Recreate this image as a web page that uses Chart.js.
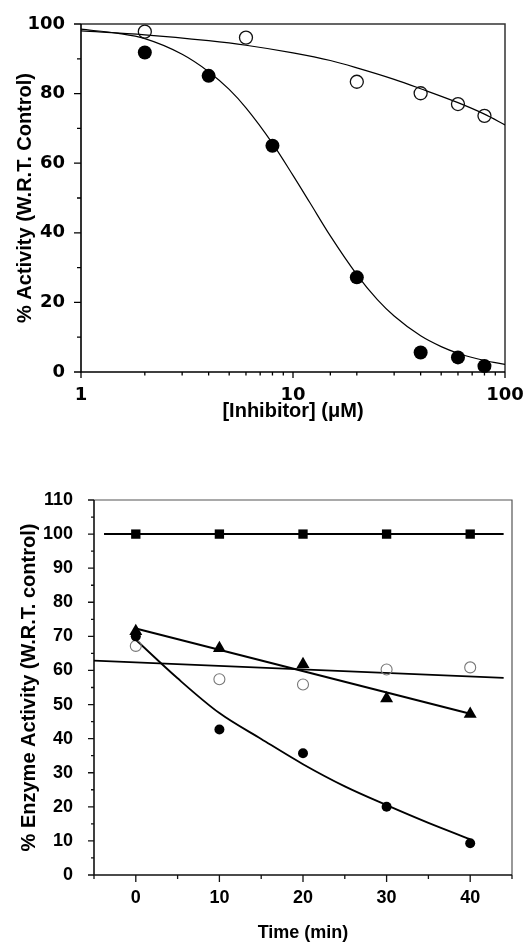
<!DOCTYPE html>
<html>
<head>
<meta charset="utf-8">
<script src="https://cdn.jsdelivr.net/npm/chart.js@4.4.1/dist/chart.umd.min.js"></script>
<style>
  html, body { margin: 0; padding: 0; background: #fff; }
  canvas { position: absolute; left: 0; }
  #c1 { top: 0; }
  #c2 { top: 440px; }
</style>
</head>
<body>
<canvas id="c1" width="531" height="440"></canvas>
<canvas id="c2" width="531" height="504"></canvas>
<script>
// ---- top panel: dose response ----
const concFilled = [2, 4, 8, 20, 40, 60, 80];
const actFilled = [91.8, 85.1, 65.0, 27.2, 5.6, 4.2, 1.7];
const concOpen = [2, 6, 20, 40, 60, 80];
const actOpen = [97.8, 96.1, 83.4, 80.1, 77.0, 73.6];
// fitted curves
const fitFilledX = [1, 1.5, 2, 3, 4, 5, 6, 8, 10, 12, 15, 20, 25, 30, 40, 50, 60, 80, 100];
const fitFilledY = [98.5, 97.3, 95.8, 91.3, 86.3, 81.2, 75.9, 65.7, 56.5, 48.7, 39.1, 28.0, 20.8, 16.1, 10.4, 7.3, 5.4, 3.3, 2.2];
const fitOpenX = [1, 2, 4, 6, 10, 15, 20, 30, 40, 60, 80, 100];
const fitOpenY = [98.0, 96.9, 95.2, 93.9, 91.7, 89.5, 87.4, 84.1, 81.4, 77.4, 74.1, 71.0];

// ---- bottom panel: time course ----
const timeMin = [0, 10, 20, 30, 40];
const controlAct = [100, 100, 100, 100, 100];
const triangleAct = [71.5, 66.5, 61.8, 51.8, 47.2];
const openAct = [67.2, 57.4, 55.9, 60.3, 60.9];
const filledAct = [70.0, 42.7, 35.7, 20.0, 9.3];
const controlLineX = [-3.8, 44];
const controlLineY = [100, 100];
const triangleLineX = [0, 40];
const triangleLineY = [72.3, 47.3];
const openLineX = [-5, 44];
const openLineY = [62.9, 57.8];
const filledCurveX = [0, 5, 10, 15, 20, 25, 30, 35, 40];
const filledCurveY = [69, 57.7, 47.5, 39.9, 32.5, 26, 20.5, 15.3, 10.5];

const SANS = "'Liberation Sans', Arial, sans-serif";
const WIDE = "'DejaVu Sans', sans-serif";

const pts = (xs, ys) => xs.map((x, i) => ({ x: x, y: ys[i] }));

// axis lines, outward ticks (long for labelled ones) and the top/right box edges
function tickFrame(opt) {
  return {
    id: 'tickFrame',
    beforeDatasetsDraw(chart) {
      const { ctx, chartArea: a, scales } = chart;
      const sx = scales.x, sy = scales.y;
      ctx.save();
      ctx.strokeStyle = opt.boxColor;
      ctx.lineWidth = opt.boxWidth;
      ctx.beginPath();
      ctx.moveTo(a.left, a.top);
      ctx.lineTo(a.right, a.top);
      ctx.lineTo(a.right, a.bottom);
      ctx.stroke();

      ctx.strokeStyle = opt.axisColor;
      ctx.lineWidth = opt.tickWidth;
      ctx.beginPath();
      sx.ticks.forEach(t => {
        const p = sx.getPixelForValue(t.value);
        const len = t.label !== '' ? opt.xMajor : opt.xMinor;
        ctx.moveTo(p, a.bottom);
        ctx.lineTo(p, a.bottom + len);
      });
      sy.ticks.forEach(t => {
        const p = sy.getPixelForValue(t.value);
        const len = t.label !== '' ? opt.yMajor : opt.yMinor;
        ctx.moveTo(a.left, p);
        ctx.lineTo(a.left - len, p);
      });
      ctx.stroke();

      ctx.lineWidth = opt.axisWidth;
      ctx.beginPath();
      ctx.moveTo(a.left, a.top);
      ctx.lineTo(a.left, a.bottom);
      ctx.lineTo(a.right, a.bottom);
      ctx.stroke();
      ctx.restore();
    }
  };
}

const isDecade = v => { const l = Math.log10(v); return Math.abs(l - Math.round(l)) < 1e-6; };

new Chart(document.getElementById('c1'), {
  type: 'scatter',
  data: {
    datasets: [
      { data: pts(concFilled, actFilled), pointRadius: 7, pointBackgroundColor: '#000', pointBorderColor: '#000', pointBorderWidth: 0, clip: false },
      { data: pts(concOpen, actOpen), pointRadius: 6.5, pointBackgroundColor: 'rgba(0,0,0,0)', pointBorderColor: '#111', pointBorderWidth: 1.3, clip: false },
      { data: pts(fitFilledX, fitFilledY), showLine: true, pointRadius: 0, borderColor: '#000', borderWidth: 1.2, cubicInterpolationMode: 'monotone' },
      { data: pts(fitOpenX, fitOpenY), showLine: true, pointRadius: 0, borderColor: '#000', borderWidth: 1.2, cubicInterpolationMode: 'monotone' }
    ]
  },
  options: {
    responsive: false,
    animation: false,
    layout: { padding: { top: 24, right: 26, bottom: 0, left: 0 } },
    plugins: { legend: { display: false }, tooltip: { enabled: false } },
    scales: {
      x: {
        type: 'logarithmic', min: 1, max: 100,
        grid: { display: false }, border: { display: false },
        ticks: {
          autoSkip: false, maxRotation: 0, padding: 5, color: '#000',
          font: { family: WIDE, size: 18, weight: 'bold' },
          callback: v => isDecade(v) ? String(Math.round(v)) : ''
        },
        title: { display: true, text: '[Inhibitor] (\u03BCM)', color: '#000', font: { family: SANS, size: 20, weight: 'bold' }, padding: { top: 0, bottom: 17 } },
        afterFit: s => { s.height = 68; }
      },
      y: {
        min: 0, max: 100,
        grid: { display: false }, border: { display: false },
        ticks: {
          stepSize: 10, padding: 8, color: '#000',
          font: { family: WIDE, size: 18, weight: 'bold' },
          callback: v => v % 20 === 0 ? String(v) : ''
        },
        title: { display: true, text: '% Activity (W.R.T. Control)', color: '#000', font: { family: SANS, size: 20, weight: 'bold' }, padding: { top: 13, bottom: 0 } },
        afterFit: s => { s.width = 81; }
      }
    }
  },
  plugins: [tickFrame({ boxColor: '#333', boxWidth: 1.5, axisColor: '#000', axisWidth: 1.6, tickWidth: 1.3, xMajor: 6, xMinor: 3.5, yMajor: 7, yMinor: 4 })]
});

new Chart(document.getElementById('c2'), {
  type: 'scatter',
  data: {
    datasets: [
      { data: pts(timeMin, controlAct), pointStyle: 'rect', pointRadius: 6.6, pointBackgroundColor: '#000', pointBorderColor: '#000', pointBorderWidth: 0, clip: false },
      { data: pts(timeMin, triangleAct), pointStyle: 'triangle', pointRadius: 7.5, pointBackgroundColor: '#000', pointBorderColor: '#000', pointBorderWidth: 0, clip: false },
      { data: pts(timeMin, filledAct), pointRadius: 5, pointBackgroundColor: '#000', pointBorderColor: '#000', pointBorderWidth: 0, clip: false },
      { data: pts(timeMin, openAct), pointRadius: 5.5, pointBackgroundColor: 'rgba(0,0,0,0)', pointBorderColor: '#777', pointBorderWidth: 1.1, clip: false },
      { data: pts(controlLineX, controlLineY), showLine: true, pointRadius: 0, borderColor: '#000', borderWidth: 2 },
      { data: pts(triangleLineX, triangleLineY), showLine: true, pointRadius: 0, borderColor: '#000', borderWidth: 2 },
      { data: pts(openLineX, openLineY), showLine: true, pointRadius: 0, borderColor: '#000', borderWidth: 1.8 },
      { data: pts(filledCurveX, filledCurveY), showLine: true, pointRadius: 0, borderColor: '#000', borderWidth: 1.8, cubicInterpolationMode: 'monotone' }
    ]
  },
  options: {
    responsive: false,
    animation: false,
    layout: { padding: { top: 60, right: 19, bottom: 0, left: 0 } },
    plugins: { legend: { display: false }, tooltip: { enabled: false } },
    scales: {
      x: {
        type: 'linear', min: -5, max: 45,
        grid: { display: false }, border: { display: false },
        ticks: {
          stepSize: 5, autoSkip: false, maxRotation: 0, padding: 4, color: '#000',
          font: { family: SANS, size: 18, weight: 'bold' },
          callback: v => (v % 10 === 0 && v >= 0 && v <= 40) ? String(v) : ''
        },
        title: { display: true, text: 'Time (min)', color: '#000', font: { family: SANS, size: 18, weight: 'bold' }, padding: { top: 0, bottom: 0 } },
        afterFit: s => { s.height = 69; }
      },
      y: {
        min: 0, max: 110,
        grid: { display: false }, border: { display: false },
        ticks: {
          stepSize: 5, autoSkip: false, padding: 13, color: '#000',
          font: { family: SANS, size: 18, weight: 'bold' },
          callback: v => v % 10 === 0 ? String(v) : ''
        },
        title: { display: true, text: '% Enzyme Activity (W.R.T. control)', color: '#000', font: { family: SANS, size: 20, weight: 'bold' }, padding: { top: 17, bottom: 0 } },
        afterFit: s => { s.width = 94; }
      }
    }
  },
  plugins: [tickFrame({ boxColor: '#555', boxWidth: 1.2, axisColor: '#111', axisWidth: 1.6, tickWidth: 1.3, xMajor: 7, xMinor: 4, yMajor: 6, yMinor: 3 })]
});
</script>
</body>
</html>
